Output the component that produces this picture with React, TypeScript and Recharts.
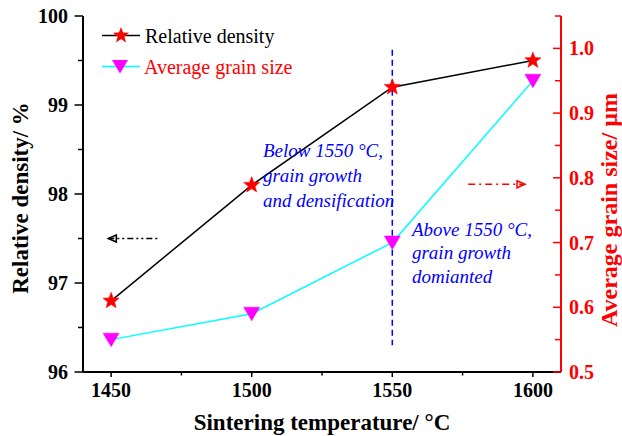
import React from 'react';
import { LineChart, Line, XAxis, YAxis, ReferenceLine, ReferenceDot, Legend } from 'recharts';

const temperatures = [1450, 1500, 1550, 1600];
const relativeDensity = [96.8, 98.1, 99.2, 99.5];
const grainSize = [0.55, 0.59, 0.7, 0.95];

const xMajorTicks = [1450, 1500, 1550, 1600];
const xMinorTicks = [1475, 1525, 1575];
const leftMajorTicks = [96, 97, 98, 99, 100];
const leftMinorTicks = [96.5, 97.5, 98.5, 99.5];
const rightMajorTicks = [0.5, 0.6, 0.7, 0.8, 0.9, 1.0];
const rightMinorTicks = [0.55, 0.65, 0.75, 0.85, 0.95, 1.05];

const belowNote = ['Below 1550 °C,', 'grain growth', 'and densification'];
const aboveNote = ['Above 1550 °C,', 'grain growth', 'domianted'];

const legendLabels = ['Relative density', 'Average grain size'];

const data = temperatures.map((t, i) => ({ t, density: relativeDensity[i], grain: grainSize[i] }));

const SERIF = "'Liberation Serif', 'Times New Roman', serif";
const BLUE = '#0000ff';
const RED = '#ff0000';

const boldStyle = (size: number): React.CSSProperties => ({ fontFamily: SERIF, fontWeight: 'bold', fontSize: size });

const isMajor = (v: number, majors: number[]) => majors.some((m) => Math.abs(m - v) < 1e-6);

const starPath = (cx: number, cy: number, R = 8.5, r = 3.6) => {
  let d = '';
  for (let i = 0; i < 10; i++) {
    const rad = i % 2 === 0 ? R : r;
    const a = -Math.PI / 2 + (i * Math.PI) / 5;
    d += (i === 0 ? 'M' : 'L') + (cx + rad * Math.cos(a)).toFixed(2) + ',' + (cy + rad * Math.sin(a)).toFixed(2);
  }
  return d + 'Z';
};
const triPath = (cx: number, cy: number) =>
  `M${cx - 8},${cy - 6.5}L${cx + 8},${cy - 6.5}L${cx},${cy + 7}Z`;

const renderStar = (p: any) => (
  <path key={`s${p.index}`} d={starPath(p.cx, p.cy)} fill={RED} stroke={RED} strokeWidth={0.5} />
);
const renderTri = (p: any) => (
  <path key={`t${p.index}`} d={triPath(p.cx, p.cy)} fill="#ff00ff" stroke="#ff00ff" strokeWidth={0.5} />
);

const BottomTick = (props: any) => {
  const { x, y, payload } = props;
  const major = isMajor(payload.value, xMajorTicks);
  return (
    <g>
      <line x1={x} x2={x} y1={y} y2={y + (major ? 5 : 3.5)} stroke="#000" strokeWidth={1.5} />
      {major && (
        <text x={x} y={y + 25} textAnchor="middle" style={boldStyle(20)} fill="#000">
          {payload.value}
        </text>
      )}
    </g>
  );
};

const TopTick = (props: any) => {
  const { x, y, payload } = props;
  const major = isMajor(payload.value, xMajorTicks);
  return <line x1={x} x2={x} y1={y} y2={y + (major ? 4 : 3)} stroke="#000" strokeWidth={1.5} />;
};

const LeftTick = (props: any) => {
  const { x, y, payload } = props;
  const major = isMajor(payload.value, leftMajorTicks);
  return (
    <g>
      <line x1={x} x2={x - (major ? 8.5 : 5)} y1={y} y2={y} stroke="#000" strokeWidth={1.5} />
      {major && (
        <text x={x - 15} y={y + 7} textAnchor="end" style={boldStyle(20)} fill="#000">
          {payload.value}
        </text>
      )}
    </g>
  );
};

const RightTick = (props: any) => {
  const { x, y, payload } = props;
  const major = isMajor(payload.value, rightMajorTicks);
  return (
    <g>
      <line x1={x} x2={x - (major ? 8 : 6)} y1={y} y2={y} stroke={RED} strokeWidth={1.5} />
      {major && (
        <text x={x + 8} y={y + 7} textAnchor="start" style={boldStyle(20)} fill={RED}>
          {Number(payload.value).toFixed(1)}
        </text>
      )}
    </g>
  );
};

const makeArrow = (color: string, dash: string, headAtStart: boolean) => (p: any) => {
  const { x1, y1, x2, y2 } = p;
  const hx = headAtStart ? Math.min(x1, x2) : Math.max(x1, x2);
  const dir = headAtStart ? 1 : -1;
  return (
    <g>
      <line x1={x1} y1={y1} x2={x2} y2={y2} stroke={color} strokeWidth={1.5} strokeDasharray={dash} />
      <path
        d={`M${hx + dir * 8},${y1 - 3.5}L${hx},${y1}L${hx + dir * 8},${y1 + 3.5}Z`}
        fill="none"
        stroke={color}
        strokeWidth={1.5}
      />
    </g>
  );
};

const makeNote = (lines: string[], spacing: number) => (p: any) => (
  <text style={{ fontFamily: SERIF, fontStyle: 'italic', fontSize: 19 }} fill={BLUE}>
    {lines.map((l, i) => (
      <tspan key={i} x={p.cx} y={p.cy + i * spacing}>
        {l}
      </tspan>
    ))}
  </text>
);

const renderLegend = () => (
  <div style={{ fontFamily: SERIF, fontSize: 20, lineHeight: 1 }}>
    {legendLabels.map((label, i) => (
      <div key={label} style={{ display: 'flex', alignItems: 'center', height: 31 }}>
        <svg width={42} height={31} style={{ display: 'block' }}>
          <line x1={2} x2={40} y1={15.5} y2={15.5} stroke={i === 0 ? '#000' : '#00ffff'} strokeWidth={1.5} />
          <path d={i === 0 ? starPath(21, 15.5) : triPath(20, 15.5)} fill={i === 0 ? RED : '#ff00ff'} />
        </svg>
        <span style={{ marginLeft: i === 0 ? 3 : 2, color: i === 0 ? '#000' : RED, whiteSpace: 'nowrap' }}>{label}</span>
      </div>
    ))}
  </div>
);

export default function App() {
  return (
    <div style={{ position: 'absolute', left: 0, top: 0, background: '#fff', fontFamily: SERIF }}>
      <LineChart width={622} height={436} data={data} margin={{ top: 16, right: 0, bottom: 0, left: 0 }}>
        <XAxis
          xAxisId="b"
          dataKey="t"
          type="number"
          domain={[1440, 1610]}
          ticks={[...xMajorTicks, ...xMinorTicks]}
          interval={0}
          height={64}
          tickSize={0}
          tickMargin={0}
          tickLine={false}
          tick={<BottomTick />}
          axisLine={{ stroke: '#000', strokeWidth: 2 }}
          label={{
            content: (p: any) => (
              <text
                x={p.viewBox.x + p.viewBox.width / 2}
                y={p.viewBox.y + 58}
                textAnchor="middle"
                style={boldStyle(23)}
                fill="#000"
              >
                Sintering temperature/ °C
              </text>
            ),
          }}
        />
        <XAxis
          xAxisId="top"
          orientation="top"
          dataKey="t"
          type="number"
          domain={[1440, 1610]}
          ticks={[...xMajorTicks, ...xMinorTicks]}
          interval={0}
          height={0}
          tickSize={0}
          tickMargin={0}
          tickLine={false}
          tick={<TopTick />}
          axisLine={{ stroke: '#000', strokeWidth: 2 }}
        />
        <YAxis
          yAxisId="l"
          type="number"
          domain={[96, 100]}
          ticks={[...leftMajorTicks, ...leftMinorTicks]}
          interval={0}
          width={83}
          tickSize={0}
          tickMargin={0}
          tickLine={false}
          tick={<LeftTick />}
          axisLine={{ stroke: '#000', strokeWidth: 2 }}
          label={{
            content: (p: any) => {
              const cx = 28;
              const cy = p.viewBox.y + p.viewBox.height / 2 + 4;
              return (
                <text
                  x={cx}
                  y={cy}
                  transform={`rotate(-90, ${cx}, ${cy})`}
                  textAnchor="middle"
                  style={boldStyle(23)}
                  fill="#000"
                >
                  Relative density/ %
                </text>
              );
            },
          }}
        />
        <YAxis
          yAxisId="r"
          orientation="right"
          type="number"
          domain={[0.5, 1.05]}
          ticks={[...rightMajorTicks, ...rightMinorTicks]}
          interval={0}
          width={61}
          tickSize={0}
          tickMargin={0}
          tickLine={false}
          tick={<RightTick />}
          axisLine={{ stroke: RED, strokeWidth: 2 }}
          label={{
            content: (p: any) => {
              const cx = p.viewBox.x + 56;
              const cy = p.viewBox.y + p.viewBox.height / 2 + 16;
              return (
                <text
                  x={cx}
                  y={cy}
                  transform={`rotate(-90, ${cx}, ${cy})`}
                  textAnchor="middle"
                  style={boldStyle(24)}
                  fill={RED}
                >
                  Average grain size/ µm
                </text>
              );
            },
          }}
        />
        <Legend
          layout="vertical"
          align="center"
          verticalAlign="middle"
          wrapperStyle={{ left: 100, top: 20, width: 'auto', height: 'auto' }}
          content={renderLegend}
        />
        <ReferenceLine
          xAxisId="b"
          yAxisId="l"
          segment={[
            { x: 1550, y: 99.62 },
            { x: 1550, y: 96.3 },
          ]}
          stroke={BLUE}
          strokeWidth={1.5}
          strokeDasharray="6 4"
        />
        <ReferenceLine
          xAxisId="b"
          yAxisId="l"
          segment={[
            { x: 1449, y: 97.5 },
            { x: 1466.7, y: 97.5 },
          ]}
          shape={makeArrow('#000', '6 3 2 3 2 3', true)}
        />
        <ReferenceLine
          xAxisId="b"
          yAxisId="r"
          segment={[
            { x: 1577, y: 0.79 },
            { x: 1597.2, y: 0.79 },
          ]}
          shape={makeArrow(RED, '7 4 2 4', false)}
        />
        <ReferenceDot xAxisId="b" yAxisId="l" x={1504} y={98.42} shape={makeNote(belowNote, 25)} />
        <ReferenceDot xAxisId="b" yAxisId="l" x={1557} y={97.53} shape={makeNote(aboveNote, 23.5)} />
        <Line
          xAxisId="b"
          yAxisId="l"
          dataKey="density"
          stroke="#000"
          strokeWidth={1.5}
          dot={renderStar}
          activeDot={false}
          isAnimationActive={false}
          legendType="none"
        />
        <Line
          xAxisId="b"
          yAxisId="r"
          dataKey="grain"
          stroke="#00ffff"
          strokeWidth={1.5}
          dot={renderTri}
          activeDot={false}
          isAnimationActive={false}
          legendType="none"
        />
      </LineChart>
    </div>
  );
}
